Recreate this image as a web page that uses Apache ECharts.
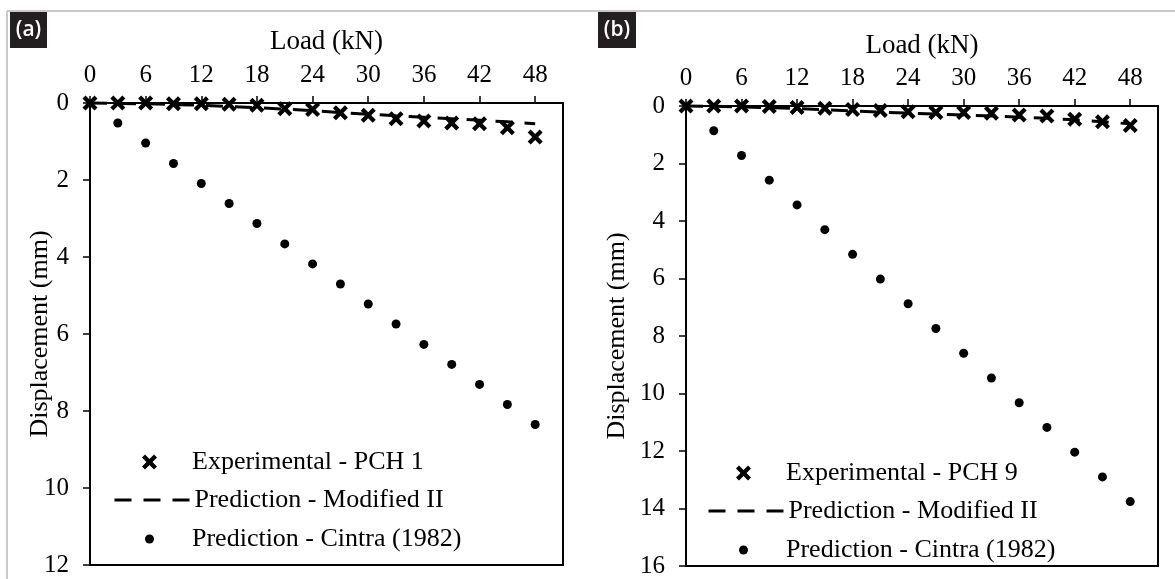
<!DOCTYPE html>
<html>
<head>
<meta charset="utf-8">
<title>Load - displacement</title>
<script src="https://cdn.jsdelivr.net/npm/echarts@6/dist/echarts.min.js"></script>
<style>
  html, body { margin: 0; padding: 0; background: #fff; }
  #chart { width: 1175px; height: 579px; }
</style>
</head>
<body>
<div id="chart"></div>
<script>
// load steps (kN)
var loads = [0, 3, 6, 9, 12, 15, 18, 21, 24, 27, 30, 33, 36, 39, 42, 45, 48]
var cintraLoads = [3, 6, 9, 12, 15, 18, 21, 24, 27, 30, 33, 36, 39, 42, 45, 48]
var xTicks = [0, 6, 12, 18, 24, 30, 36, 42, 48]

// (a) PCH 1, displacement (mm)
var expA = [0, 0, 0, 0.02, 0.02, 0.03, 0.06, 0.15, 0.17, 0.25, 0.32, 0.41, 0.47, 0.52, 0.54, 0.64, 0.88]
var modA = [0, 0.01, 0.02, 0.04, 0.06, 0.09, 0.12, 0.16, 0.2, 0.25, 0.29, 0.33, 0.37, 0.41, 0.45, 0.49, 0.54]
var cintraA = [0.52, 1.04, 1.57, 2.09, 2.61, 3.13, 3.66, 4.18, 4.7, 5.22, 5.74, 6.27, 6.79, 7.31, 7.83, 8.35]

// (b) PCH 9, displacement (mm)
var expB = [0, 0, 0, 0.02, 0.05, 0.08, 0.12, 0.16, 0.2, 0.23, 0.23, 0.25, 0.31, 0.35, 0.46, 0.55, 0.68]
var modB = [0, 0.01, 0.03, 0.06, 0.09, 0.13, 0.17, 0.21, 0.25, 0.28, 0.31, 0.35, 0.39, 0.43, 0.48, 0.55, 0.62]
var cintraB = [0.86, 1.72, 2.58, 3.44, 4.3, 5.16, 6.02, 6.88, 7.74, 8.6, 9.46, 10.32, 11.18, 12.04, 12.9, 13.76]

var nameExpA = 'Experimental - PCH 1'
var nameExpB = 'Experimental - PCH 9'
var nameMod = 'Prediction - Modified II'
var nameCintra = 'Prediction - Cintra (1982)'

var serif = '"Liberation Serif", "Times New Roman", serif'
var crossPath = 'path://M0,2 L2,0 L5,3 L8,0 L10,2 L7,5 L10,8 L8,10 L5,7 L2,10 L0,8 L3,5 Z'

function pairs(xs, ys) {
  return xs.map(function (x, i) { return [x, ys[i]] })
}

function xAxisOf(grid, gap) {
  return {
    gridIndex: grid,
    type: 'value',
    position: 'top',
    min: 0,
    max: 51,
    name: 'Load (kN)',
    nameLocation: 'middle',
    nameGap: gap,
    nameMoveOverlap: false,
    nameTextStyle: { fontFamily: serif, fontSize: 27, color: '#000' },
    axisLine: { show: true, lineStyle: { color: '#000', width: 2 } },
    axisTick: { show: true, customValues: xTicks, length: 7, lineStyle: { color: '#000', width: 1.5 } },
    axisLabel: { customValues: xTicks, margin: 15, fontFamily: serif, fontSize: 25, color: '#000' },
    splitLine: { show: false }
  }
}

function yAxisOf(grid, max, gap) {
  return {
    gridIndex: grid,
    type: 'value',
    inverse: true,
    min: 0,
    max: max,
    interval: 2,
    name: 'Displacement (mm)',
    nameLocation: 'middle',
    nameGap: gap,
    nameRotate: 90,
    nameMoveOverlap: false,
    nameTextStyle: { fontFamily: serif, fontSize: 26, color: '#000' },
    axisLine: { show: true, lineStyle: { color: '#000', width: 2 } },
    axisTick: { show: true, length: 7, lineStyle: { color: '#000', width: 1.5 } },
    axisLabel: { margin: 21, fontFamily: serif, fontSize: 25, color: '#000' },
    splitLine: { show: false }
  }
}

function legendOf(name, left, centerY, h, extra) {
  var lg = {
    data: [name],
    left: left,
    top: centerY - 13,
    orient: 'horizontal',
    padding: 0,
    selectedMode: false,
    itemWidth: 75,
    itemHeight: h,
    textStyle: { fontFamily: serif, fontSize: 26, lineHeight: 26, color: '#000' }
  }
  return Object.assign(lg, extra || {})
}

// dashed legend icon: keep the line, hide the default circle
var dashLegend = {
  lineStyle: { width: 3, type: [17, 12], color: '#000' },
  itemStyle: { opacity: 0 }
}

var chart = echarts.init(document.getElementById('chart'))
chart.setOption({
  backgroundColor: '#fff',
  animation: false,
  grid: [
    { left: 90, top: 103, width: 473, height: 462, show: true, borderColor: '#000', borderWidth: 2 },
    { left: 686, top: 106, width: 472, height: 460, show: true, borderColor: '#000', borderWidth: 2 }
  ],
  xAxis: [xAxisOf(0, 48), xAxisOf(1, 47)],
  yAxis: [yAxisOf(0, 12, 37), yAxisOf(1, 16, 56)],
  legend: [
    legendOf(nameExpA, 142, 462, 15),
    legendOf(nameMod, 113, 500, 14, dashLegend),
    legendOf(nameCintra, 145, 539, 9),
    legendOf(nameExpB, 736, 473, 15),
    legendOf(nameMod, 707, 511, 14, dashLegend),
    legendOf(nameCintra, 739, 550, 9)
  ],
  graphic: [
    { type: 'line', shape: { x1: 7, y1: 11, x2: 1175, y2: 11 }, style: { stroke: '#c8c8c8', lineWidth: 2 } },
    { type: 'line', shape: { x1: 7, y1: 11, x2: 7, y2: 579 }, style: { stroke: '#c8c8c8', lineWidth: 2 } },
    { type: 'rect', shape: { x: 10, y: 12, width: 37, height: 36 }, style: { fill: '#231f20' } },
    { type: 'text', x: 28.5, y: 30, style: { text: '(a)', fill: '#fff', font: '600 21px "Open Sans", sans-serif', align: 'center', verticalAlign: 'middle' } },
    { type: 'rect', shape: { x: 598, y: 12, width: 38, height: 36 }, style: { fill: '#231f20' } },
    { type: 'text', x: 617, y: 30, style: { text: '(b)', fill: '#fff', font: '600 21px "Open Sans", sans-serif', align: 'center', verticalAlign: 'middle' } }
  ],
  series: [
    {
      name: nameMod, type: 'line', xAxisIndex: 0, yAxisIndex: 0, data: pairs(loads, modA),
      symbol: 'none', clip: false, z: 2,
      lineStyle: { color: '#000', width: 3, type: [17, 12] }, itemStyle: { color: '#000' }
    },
    {
      name: nameExpA, type: 'scatter', xAxisIndex: 0, yAxisIndex: 0, data: pairs(loads, expA),
      symbol: crossPath, symbolSize: 15, clip: false, z: 3, itemStyle: { color: '#000', opacity: 1 }
    },
    {
      name: nameCintra, type: 'scatter', xAxisIndex: 0, yAxisIndex: 0, data: pairs(cintraLoads, cintraA),
      symbol: 'circle', symbolSize: 9, clip: false, z: 3, itemStyle: { color: '#000', opacity: 1 }
    },
    {
      name: nameMod, type: 'line', xAxisIndex: 1, yAxisIndex: 1, data: pairs(loads, modB),
      symbol: 'none', clip: false, z: 2,
      lineStyle: { color: '#000', width: 3, type: [17, 12] }, itemStyle: { color: '#000' }
    },
    {
      name: nameExpB, type: 'scatter', xAxisIndex: 1, yAxisIndex: 1, data: pairs(loads, expB),
      symbol: crossPath, symbolSize: 15, clip: false, z: 3, itemStyle: { color: '#000', opacity: 1 }
    },
    {
      name: nameCintra, type: 'scatter', xAxisIndex: 1, yAxisIndex: 1, data: pairs(cintraLoads, cintraB),
      symbol: 'circle', symbolSize: 9, clip: false, z: 3, itemStyle: { color: '#000', opacity: 1 }
    }
  ]
})
</script>
</body>
</html>
